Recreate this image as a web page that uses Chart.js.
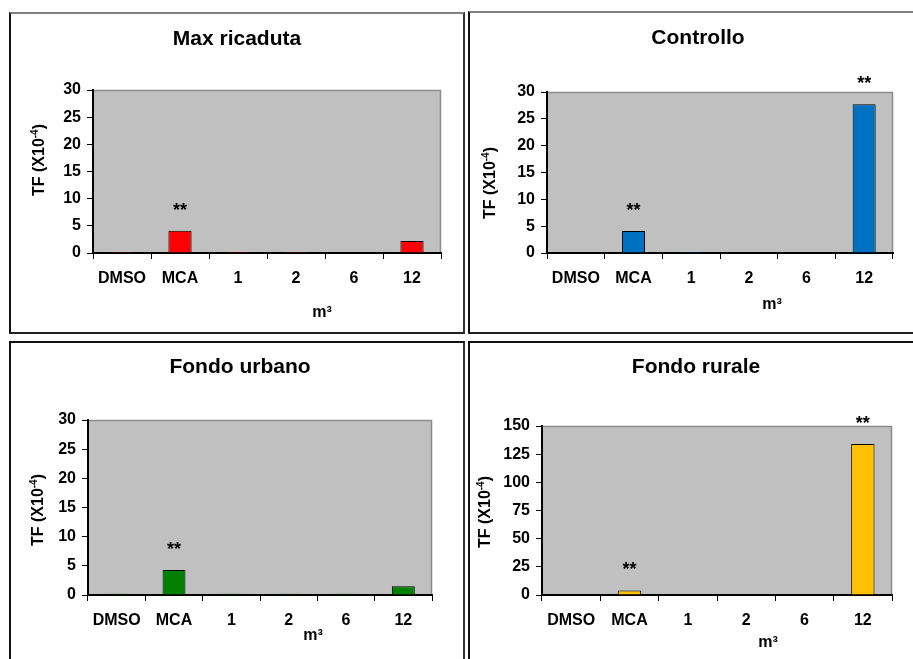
<!DOCTYPE html>
<html>
<head>
<meta charset="utf-8">
<script src="https://cdn.jsdelivr.net/npm/chart.js@4.4.0/dist/chart.umd.min.js"></script>
<style>
  html, body { margin: 0; padding: 0; background: #fff; overflow: hidden; }
  body { width: 913px; height: 659px; position: relative; }
  .box { position: absolute; box-sizing: border-box; }
  .top { border-top: 2px solid #808080; border-left: 2px solid #111; border-right: 2px solid #333; border-bottom: 2px solid #222; }
  .bot { border-top: 2px solid #111; border-left: 2px solid #111; border-right: 2px solid #333; }
  canvas { position: absolute; }
</style>
</head>
<body>
<div class="box top" style="left:9px;top:12px;width:456px;height:322px"></div>
<div class="box top" style="left:468px;top:11px;width:470px;height:323px"></div>
<div class="box bot" style="left:9px;top:341px;width:456px;height:340px"></div>
<div class="box bot" style="left:468px;top:341px;width:470px;height:340px"></div>

<canvas id="c1" width="454" height="320" style="left:10px;top:13px"></canvas>
<canvas id="c2" width="444" height="321" style="left:469px;top:12px"></canvas>
<canvas id="c3" width="454" height="317" style="left:10px;top:342px"></canvas>
<canvas id="c4" width="444" height="317" style="left:469px;top:342px"></canvas>

<script>
// === DATI ===
const categories = ['DMSO', 'MCA', '1', '2', '6', '12'];

const maxRicaduta = [0.2, 4.1, 0.2, 0.2, 0, 2.2];
const controllo   = [0, 4.1, 0.2, 0, 0, 27.7];
const fondoUrbano = [0.2, 4.3, 0.2, 0.2, 0.2, 1.5];
const fondoRurale = [0, 4, 0, 0, 0, 134];

// significativita' (**)
const sigMaxRicaduta = ['', '**', '', '', '', ''];
const sigControllo   = ['', '**', '', '', '', '**'];
const sigUrbano      = ['', '**', '', '', '', ''];
const sigRurale      = ['', '**', '', '', '', '**'];

// assi y
const yMax30 = 30,  yStep30 = 5;
const yMax150 = 150, yStep150 = 25;

Chart.defaults.font.family = "'Liberation Sans', Arial, sans-serif";
Chart.defaults.color = '#000';

const FONT = "'Liberation Sans', Arial, sans-serif";

// sfondo grigio + titoli + asterischi
const panelPlugin = {
  id: 'panel',
  beforeDraw(chart) {
    const { ctx, chartArea: a } = chart;
    ctx.save();
    ctx.fillStyle = '#C0C0C0';
    ctx.fillRect(a.left, a.top, a.right - a.left, a.bottom - a.top);
    ctx.strokeStyle = '#8c8c8c';
    ctx.lineWidth = 1.5;
    ctx.beginPath();
    ctx.moveTo(a.left, a.top + 0.5);
    ctx.lineTo(a.right - 0.5, a.top + 0.5);
    ctx.lineTo(a.right - 0.5, a.bottom);
    ctx.stroke();
    ctx.restore();
  },
  afterDraw(chart) {
    const o = chart.options.plugins.panel;
    const ctx = chart.ctx;
    ctx.save();
    ctx.fillStyle = '#000';
    ctx.textBaseline = 'middle';
    ctx.textAlign = 'center';

    // titolo
    ctx.font = 'bold 21px ' + FONT;
    ctx.fillText(o.title, o.titleX, o.titleY);

    // m3
    ctx.font = 'bold 16px ' + FONT;
    ctx.fillText('m\u00B3', o.xTitleX, o.xTitleY);

    // TF (X10-4)
    ctx.save();
    ctx.translate(o.yTitleX, o.yTitleY);
    ctx.rotate(-Math.PI / 2);
    ctx.textAlign = 'left';
    const big = 'bold 16px ' + FONT, small = 'bold 10px ' + FONT;
    ctx.font = big;   const w1 = ctx.measureText('TF (X10').width;
    ctx.font = small; const w2 = ctx.measureText('-4').width;
    ctx.font = big;   const w3 = ctx.measureText(')').width;
    let x = -(w1 + w2 + w3) / 2;
    ctx.font = big;   ctx.fillText('TF (X10', x, 0); x += w1;
    ctx.font = small; ctx.fillText('-4', x, -5); x += w2;
    ctx.font = big;   ctx.fillText(')', x, 0);
    ctx.restore();

    // asterischi
    ctx.font = 'bold 18px ' + FONT;
    const meta = chart.getDatasetMeta(0);
    o.stars.forEach((s, i) => {
      if (!s) return;
      const bar = meta.data[i];
      ctx.fillText(s, bar.x, bar.y - 20);
    });
    ctx.restore();
  }
};

function creaGrafico(id, valori, colore, sig, yMax, yStep, box) {
  return new Chart(document.getElementById(id), {
    type: 'bar',
    data: {
      labels: categories,
      datasets: [{
        data: valori,
        backgroundColor: colore,
        borderColor: '#000',
        borderWidth: 1,
        categoryPercentage: 1,
        barPercentage: 0.4
      }]
    },
    options: {
      responsive: false,
      animation: false,
      devicePixelRatio: 1,
      layout: { padding: { left: 0, right: box.right, top: box.top, bottom: box.bottom } },
      plugins: {
        legend: { display: false },
        title: { display: false },
        tooltip: { enabled: false },
        panel: {
          title: box.title, titleX: box.titleX, titleY: box.titleY,
          yTitleX: box.yTitleX, yTitleY: box.yTitleY,
          xTitleX: box.xTitleX, xTitleY: box.xTitleY,
          stars: sig
        }
      },
      scales: {
        x: {
          grid: { drawOnChartArea: false, color: '#000', tickLength: 6, offset: true },
          border: { color: '#000', width: 2 },
          ticks: { font: { size: 16, weight: 'bold' }, color: '#000', padding: 10, maxRotation: 0 },
          afterFit(s) { s.height = 40; }
        },
        y: {
          min: 0, max: yMax,
          grid: { drawOnChartArea: false, color: '#000', tickLength: 6 },
          border: { color: '#000', width: 2 },
          ticks: { stepSize: yStep, font: { size: 16, weight: 'bold' }, color: '#000', padding: 6 },
          afterFit(s) { s.width = box.left; }
        }
      }
    },
    plugins: [panelPlugin]
  });
}

creaGrafico('c1', maxRicaduta, '#FF0000', sigMaxRicaduta, yMax30, yStep30, {
  left: 83, right: 23, top: 77, bottom: 40,
  title: 'Max ricaduta', titleX: 227, titleY: 26,
  yTitleX: 30, yTitleY: 147, xTitleX: 312, xTitleY: 300
});
creaGrafico('c2', controllo, '#0070C0', sigControllo, yMax30, yStep30, {
  left: 78, right: 20, top: 80, bottom: 40,
  title: 'Controllo', titleX: 229, titleY: 26,
  yTitleX: 22, yTitleY: 171, xTitleX: 303, xTitleY: 293
});
creaGrafico('c3', fondoUrbano, '#008000', sigUrbano, yMax30, yStep30, {
  left: 78, right: 32, top: 78, bottom: 24,
  title: 'Fondo urbano', titleX: 230, titleY: 25,
  yTitleX: 29, yTitleY: 168, xTitleX: 303, xTitleY: 294
});
creaGrafico('c4', fondoRurale, '#FFC000', sigRurale, yMax150, yStep150, {
  left: 73, right: 21, top: 84, bottom: 24,
  title: 'Fondo rurale', titleX: 227, titleY: 25,
  yTitleX: 17, yTitleY: 170, xTitleX: 299, xTitleY: 301
});
</script>
</body>
</html>
